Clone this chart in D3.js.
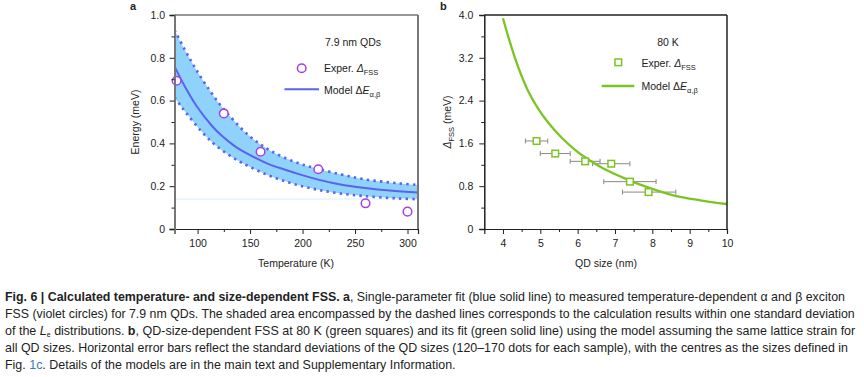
<!DOCTYPE html>
<html><head><meta charset="utf-8">
<script src="https://cdn.jsdelivr.net/npm/d3@7"></script>
<style>body{margin:0;background:#fff}svg{display:block}text{font-family:"Liberation Sans",Arial,sans-serif;fill:#222}</style>
</head><body><svg id="c" width="864" height="377"></svg>
<script>
// ---------- Panel a data ----------
const expT = [80, 125, 160, 215, 260, 300];
const expE = [0.693, 0.54, 0.361, 0.279, 0.12, 0.081];
const modelT = [78, 88, 99, 114, 122, 136, 150, 166, 182, 198, 214, 230, 250, 274, 310];
const modelE = [0.76, 0.665, 0.575, 0.48, 0.44, 0.385, 0.345, 0.307, 0.279, 0.254, 0.232, 0.214, 0.197, 0.183, 0.17];
const upperT = [78, 87, 95, 103, 112, 120, 128, 140, 150, 160, 169, 182, 198, 214, 236, 258, 290, 310];
const upperE = [0.93, 0.845, 0.775, 0.71, 0.645, 0.59, 0.543, 0.478, 0.432, 0.395, 0.367, 0.335, 0.304, 0.282, 0.256, 0.233, 0.214, 0.206];
const lowerT = [78, 84, 90, 103, 115, 128, 140, 150, 166, 182, 198, 214, 233, 258, 290, 310];
const lowerE = [0.615, 0.575, 0.537, 0.46, 0.40, 0.352, 0.315, 0.29, 0.254, 0.225, 0.202, 0.184, 0.168, 0.154, 0.143, 0.139];
const aXTicks = [100, 150, 200, 250, 300];
const aYTicks = [0, 0.2, 0.4, 0.6, 0.8, 1.0];
// ---------- Panel b data ----------
const qdSize = [4.9, 5.4, 6.2, 6.9, 7.4, 7.9];
const qdFSS = [1.645, 1.41, 1.265, 1.22, 0.885, 0.69];
const qdErrLo = [4.6, 5.0, 5.8, 6.4, 6.7, 7.2];
const qdErrHi = [5.2, 5.8, 6.6, 7.4, 8.1, 8.63];
const fitL = [4.0, 4.14, 4.32, 4.5, 4.68, 4.95, 5.22, 5.58, 5.93, 6.2, 6.69, 7.4, 7.9, 8.56, 9.28, 10.0];
const fitF = [3.94, 3.60, 3.20, 2.86, 2.57, 2.24, 1.98, 1.70, 1.48, 1.34, 1.13, 0.905, 0.775, 0.63, 0.537, 0.467];
const bXTicks = [4, 5, 6, 7, 8, 9, 10];
const bYTicks = [0, 0.8, 1.6, 2.4, 3.2, 4.0];

const svg = d3.select("#c");
const blue = "#5a63ee", band = "#8fd2fb", violet = "#a53fe6", green = "#7cc423";
const fmt = v => v === 0 ? "0" : d3.format(".1f")(v);

// ================= Panel a =================
const xa = d3.scaleLinear().domain([78, 310]).range([174.5, 418]);
const ya = d3.scaleLinear().domain([0, 1]).range([229, 15]);
const ga = svg.append("g");
svg.append("clipPath").attr("id", "clipA").append("rect")
  .attr("x", 174.5).attr("y", 15).attr("width", 418 - 174.5).attr("height", 214);
const curveA = d3.curveCatmullRom.alpha(0.5);
const pa = ga.append("g").attr("clip-path", "url(#clipA)");
const upPts = upperT.map((t, i) => [t, upperE[i]]);
const loPts = lowerT.map((t, i) => [t, lowerE[i]]);
const lineA = d3.line().x(d => xa(d[0])).y(d => ya(d[1])).curve(curveA);
const upD = lineA(upPts);
const loD = lineA(loPts.slice().reverse());
pa.append("path").attr("d", upD + "L" + loD.slice(1) + "Z").attr("fill", band).attr("stroke", "none");
pa.append("line").attr("x1", xa(78)).attr("x2", xa(310)).attr("y1", ya(0.14)).attr("y2", ya(0.14))
  .attr("stroke", "#dcecfb").attr("stroke-width", 1);
pa.append("path").datum(upPts).attr("d", lineA)
  .attr("fill", "none").attr("stroke", blue).attr("stroke-width", 2.6).attr("stroke-dasharray", "2.4,4.2");
pa.append("path").datum(loPts).attr("d", lineA)
  .attr("fill", "none").attr("stroke", blue).attr("stroke-width", 2.6).attr("stroke-dasharray", "2.4,4.2");
pa.append("path").datum(modelT.map((t, i) => [t, modelE[i]])).attr("d", lineA)
  .attr("fill", "none").attr("stroke", blue).attr("stroke-width", 2);
ga.selectAll("circle.exp").data(expT).join("circle").attr("class", "exp")
  .attr("cx", d => xa(d)).attr("cy", (d, i) => ya(expE[i])).attr("r", 4.3)
  .attr("fill", "#fff").attr("stroke", violet).attr("stroke-width", 1.5);
ga.append("line").attr("x1", 174.5).attr("x2", 418).attr("y1", 15).attr("y2", 15).attr("stroke", "#333").attr("stroke-width", 1);
ga.append("line").attr("x1", 418).attr("x2", 418).attr("y1", 15).attr("y2", 229).attr("stroke", "#777").attr("stroke-width", 2);
const axBa = ga.append("g").attr("transform", "translate(0,229)")
  .call(d3.axisBottom(xa).tickValues(aXTicks).tickSize(5).tickPadding(6));
const axBaMinor = ga.append("g").attr("transform", "translate(0,229)")
  .call(d3.axisBottom(xa).tickValues([125, 175, 225, 275]).tickSize(3).tickFormat(""));
const axLa = ga.append("g").attr("transform", "translate(174.5,0)")
  .call(d3.axisLeft(ya).tickValues(aYTicks).tickSize(5).tickPadding(4.5).tickFormat(fmt));
const axLaMinor = ga.append("g").attr("transform", "translate(174.5,0)")
  .call(d3.axisLeft(ya).tickValues([0.1, 0.3, 0.5, 0.7, 0.9]).tickSize(3).tickFormat(""));
[axBa, axBaMinor, axLa, axLaMinor].forEach(g => {
  g.selectAll("text").attr("font-size", 10.5).attr("fill", "#222").attr("font-family", "Liberation Sans, Arial, sans-serif");
  g.selectAll(".tick line").attr("stroke", "#222");
});
axBa.select(".domain").attr("stroke", "#222").attr("stroke-width", 1.2);
axBaMinor.select(".domain").remove();
axLaMinor.select(".domain").remove();
axLa.select(".domain").attr("stroke", "#777").attr("stroke-width", 2);
ga.append("text").attr("x", 296).attr("y", 267).attr("text-anchor", "middle").attr("font-size", 10.5).text("Temperature (K)");
ga.append("text").attr("transform", "translate(139,122) rotate(-90)").attr("text-anchor", "middle").attr("font-size", 10.5).text("Energy (meV)");
ga.append("text").attr("x", 130).attr("y", 10).attr("font-size", 11).attr("font-weight", "bold").text("a");
ga.append("text").attr("x", 353).attr("y", 46).attr("text-anchor", "middle").attr("font-size", 10.5).text("7.9 nm QDs");
ga.append("circle").attr("cx", 301.7).attr("cy", 68.3).attr("r", 4.3).attr("fill", "#fff").attr("stroke", violet).attr("stroke-width", 1.5);
const la1 = ga.append("text").attr("x", 324).attr("y", 72).attr("font-size", 10.5);
la1.append("tspan").text("Exper. ");
la1.append("tspan").attr("font-style", "italic").text("Δ");
la1.append("tspan").attr("font-size", 7.5).attr("dy", 3).text("FSS");
ga.append("line").attr("x1", 284.5).attr("x2", 319).attr("y1", 89.3).attr("y2", 89.3).attr("stroke", blue).attr("stroke-width", 2);
const la2 = ga.append("text").attr("x", 324).attr("y", 93.5).attr("font-size", 10.5);
la2.append("tspan").text("Model Δ");
la2.append("tspan").attr("font-style", "italic").text("E");
la2.append("tspan").attr("font-size", 7.5).attr("dy", 3).text("α,β");

// ================= Panel b =================
const xb = d3.scaleLinear().domain([3.5, 10]).range([484.3, 727]);
const yb = d3.scaleLinear().domain([0, 4]).range([229, 15]);
const gb = svg.append("g");
svg.append("clipPath").attr("id", "clipB").append("rect")
  .attr("x", 484.3).attr("y", 15).attr("width", 727 - 484.3).attr("height", 214);
const eb = gb.append("g").attr("stroke", "#888").attr("stroke-width", 1);
qdSize.forEach((s, i) => {
  const y = yb(qdFSS[i]);
  eb.append("line").attr("x1", xb(qdErrLo[i])).attr("x2", xb(qdErrHi[i])).attr("y1", y).attr("y2", y);
  eb.append("line").attr("x1", xb(qdErrLo[i])).attr("x2", xb(qdErrLo[i])).attr("y1", y - 2.5).attr("y2", y + 2.5);
  eb.append("line").attr("x1", xb(qdErrHi[i])).attr("x2", xb(qdErrHi[i])).attr("y1", y - 2.5).attr("y2", y + 2.5);
});
gb.append("g").attr("clip-path", "url(#clipB)").append("path").datum(fitL.map((l, i) => [l, fitF[i]]))
  .attr("d", d3.line().x(d => xb(d[0])).y(d => yb(d[1])).curve(d3.curveCatmullRom.alpha(0.5)))
  .attr("fill", "none").attr("stroke", green).attr("stroke-width", 2.3);
gb.selectAll("rect.sq").data(qdSize).join("rect").attr("class", "sq")
  .attr("x", d => xb(d) - 3.3).attr("y", (d, i) => yb(qdFSS[i]) - 3.3).attr("width", 6.6).attr("height", 6.6)
  .attr("fill", "#fff").attr("stroke", green).attr("stroke-width", 1.5);
gb.append("line").attr("x1", 484.3).attr("x2", 727).attr("y1", 15).attr("y2", 15).attr("stroke", "#222").attr("stroke-width", 1.5);
gb.append("line").attr("x1", 727).attr("x2", 727).attr("y1", 15).attr("y2", 229).attr("stroke", "#222").attr("stroke-width", 1.5);
const axBb = gb.append("g").attr("transform", "translate(0,229)")
  .call(d3.axisBottom(xb).tickValues(bXTicks).tickSize(5).tickPadding(6).tickFormat(d3.format("d")));
const axBbMinor = gb.append("g").attr("transform", "translate(0,229)")
  .call(d3.axisBottom(xb).tickValues([4.5, 5.5, 6.5, 7.5, 8.5, 9.5]).tickSize(3).tickFormat(""));
const axLb = gb.append("g").attr("transform", "translate(484.3,0)")
  .call(d3.axisLeft(yb).tickValues(bYTicks).tickSize(5).tickPadding(6).tickFormat(fmt));
const axLbMinor = gb.append("g").attr("transform", "translate(484.3,0)")
  .call(d3.axisLeft(yb).tickValues([0.4, 1.2, 2.0, 2.8, 3.6]).tickSize(3).tickFormat(""));
[axBb, axBbMinor, axLb, axLbMinor].forEach(g => {
  g.selectAll("text").attr("font-size", 10.5).attr("fill", "#222").attr("font-family", "Liberation Sans, Arial, sans-serif");
  g.selectAll(".tick line").attr("stroke", "#222");
});
axBb.select(".domain").attr("stroke", "#222").attr("stroke-width", 1.2);
axLb.select(".domain").attr("stroke", "#222").attr("stroke-width", 1.5);
axBbMinor.select(".domain").remove();
axLbMinor.select(".domain").remove();
gb.append("text").attr("x", 606).attr("y", 267).attr("text-anchor", "middle").attr("font-size", 10.5).text("QD size (nm)");
const ylb = gb.append("text").attr("transform", "translate(451,122) rotate(-90)").attr("text-anchor", "middle").attr("font-size", 10.5);
ylb.append("tspan").attr("font-style", "italic").text("Δ");
ylb.append("tspan").attr("font-size", 7.5).attr("dy", 3).text("FSS");
ylb.append("tspan").attr("dy", -3).text(" (meV)");
gb.append("text").attr("x", 440).attr("y", 10).attr("font-size", 11).attr("font-weight", "bold").text("b");
gb.append("text").attr("x", 668).attr("y", 46).attr("text-anchor", "middle").attr("font-size", 10.5).text("80 K");
gb.append("rect").attr("x", 615).attr("y", 59).attr("width", 6.6).attr("height", 6.6).attr("fill", "#fff").attr("stroke", green).attr("stroke-width", 1.5);
const lb1 = gb.append("text").attr("x", 641.5).attr("y", 67).attr("font-size", 10.5);
lb1.append("tspan").text("Exper. ");
lb1.append("tspan").attr("font-style", "italic").text("Δ");
lb1.append("tspan").attr("font-size", 7.5).attr("dy", 3).text("FSS");
gb.append("line").attr("x1", 601.7).attr("x2", 634.3).attr("y1", 86).attr("y2", 86).attr("stroke", green).attr("stroke-width", 2.3);
const lb2 = gb.append("text").attr("x", 641.5).attr("y", 90).attr("font-size", 10.5);
lb2.append("tspan").text("Model Δ");
lb2.append("tspan").attr("font-style", "italic").text("E");
lb2.append("tspan").attr("font-size", 7.5).attr("dy", 3).text("α,β");

// ================= Caption =================
const cap = svg.append("g");
const capFont = "'Liberation Sans Narrow','DejaVu Sans Condensed','Liberation Sans',sans-serif";
const capLines = [
  {y: 301, w: 841, parts: [["b", "Fig. 6 | Calculated temperature- and size-dependent FSS. a"], ["n", ", Single-parameter fit (blue solid line) to measured temperature-dependent α and β exciton"]]},
  {y: 318, w: 851, parts: [["n", "FSS (violet circles) for 7.9 nm QDs. The shaded area encompassed by the dashed lines corresponds to the calculation results within one standard deviation"]]},
  {y: 335, w: 851, parts: [["n", "of the "], ["i", "L"], ["s", "e"], ["n2", " distributions. "], ["b", "b"], ["n", ", QD-size-dependent FSS at 80 K (green squares) and its fit (green solid line) using the model assuming the same lattice strain for"]]},
  {y: 352, w: 844, parts: [["n", "all QD sizes. Horizontal error bars reflect the standard deviations of the QD sizes (120–170 dots for each sample), with the centres as the sizes defined in"]]},
  {y: 369, w: 451, parts: [["n", "Fig. "], ["c", "1c"], ["n", ". Details of the models are in the main text and Supplementary Information."]]}
];
capLines.forEach(l => {
  const t = cap.append("text").attr("x", 0).attr("y", 0).attr("font-family", capFont)
    .attr("font-size", 12.5).attr("fill", "#231f20");
  l.parts.forEach(([k, s]) => {
    const sp = t.append("tspan").text(s);
    if (k === "b") sp.attr("font-weight", "bold");
    if (k === "i") sp.attr("font-style", "italic");
    if (k === "s") sp.attr("font-size", 7).attr("dy", 2);
    if (k === "n2") sp.attr("dy", -2);
    if (k === "c") sp.attr("fill", "#3a78c2");
  });
  const nat = t.node().getComputedTextLength();
  t.attr("transform", `translate(5,${l.y}) scale(${l.w / nat},1)`);
});
</script></body></html>
